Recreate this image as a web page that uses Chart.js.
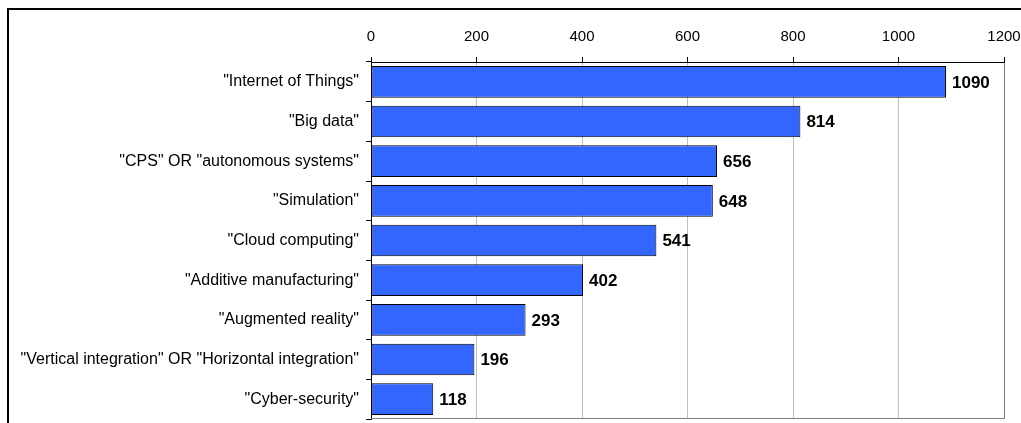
<!DOCTYPE html>
<html>
<head>
<meta charset="utf-8">
<script src="https://cdn.jsdelivr.net/npm/chart.js@4/dist/chart.umd.min.js"></script>
<style>
  html, body { margin: 0; padding: 0; background: #fff; overflow: hidden; }
  #wrap { position: relative; width: 1021px; height: 423px; }
  #frame { position: absolute; left: 7px; top: 8px; width: 2000px; height: 1000px;
           border-left: 2px solid #000; border-top: 2px solid #000; }
  #chart { position: absolute; left: 0; top: 0; }
</style>
</head>
<body>
<div id="wrap">
  <div id="frame"></div>
  <canvas id="chart" width="1021" height="423"></canvas>
</div>
<script>
const categories = [
  '"Internet of Things"',
  '"Big data"',
  '"CPS" OR "autonomous systems"',
  '"Simulation"',
  '"Cloud computing"',
  '"Additive manufacturing"',
  '"Augmented reality"',
  '"Vertical integration" OR "Horizontal integration"',
  '"Cyber-security"'
];
const counts = [1090, 814, 656, 648, 541, 402, 293, 196, 118];
const tickMax = 1200;
const tickStep = 200;

const fontFamily = '"Liberation Sans", Arial, sans-serif';

// bold numbers right of each bar
const valueLabels = {
  id: "valueLabels",
  afterDatasetsDraw(chart) {
    const ctx = chart.ctx;
    const meta = chart.getDatasetMeta(0);
    ctx.save();
    ctx.font = "bold 17px " + fontFamily;
    ctx.fillStyle = "#000";
    ctx.textBaseline = "middle";
    ctx.textAlign = "left";
    meta.data.forEach((bar, i) => {
      ctx.fillText(String(counts[i]), bar.x + 6, bar.y + 1);
    });
    ctx.restore();
  }
};

// gray plot edge at the bottom
const plotEdge = {
  id: "plotEdge",
  beforeDatasetsDraw(chart) {
    const a = chart.chartArea;
    const ctx = chart.ctx;
    ctx.save();
    ctx.strokeStyle = "#808080";
    ctx.lineWidth = 1;
    ctx.beginPath();
    ctx.moveTo(a.left, a.bottom - 0.5);
    ctx.lineTo(a.right, a.bottom - 0.5);
    ctx.stroke();
    ctx.restore();
  }
};

new Chart(document.getElementById("chart"), {
  type: "bar",
  data: {
    labels: categories,
    datasets: [{
      data: counts,
      backgroundColor: "#3366FF",
      borderColor: "#000",
      borderWidth: 1,
      borderSkipped: false,
      barPercentage: 0.8,
      categoryPercentage: 1
    }]
  },
  options: {
    indexAxis: "y",
    responsive: false,
    devicePixelRatio: 1,
    animation: false,
    layout: { padding: { left: 0, top: 0, right: 17, bottom: 4 } },
    plugins: {
      legend: { display: false },
      tooltip: { enabled: false }
    },
    scales: {
      x: {
        position: "top",
        min: 0,
        max: tickMax,
        afterFit: s => {
          s.height = 62;
          s.paddingLeft = 0;
          s.paddingRight = 0;
        },
        ticks: {
          stepSize: tickStep,
          padding: 11,
          color: "#000",
          font: { family: fontFamily, size: 15 },
          callback: v => String(v)
        },
        grid: {
          color: ctx => (ctx.tick && ctx.tick.value === tickMax ? "#808080" : "#c0c0c0"),
          tickColor: "#000",
          tickLength: 5,
          lineWidth: 1
        },
        border: { color: "#000", width: 1 }
      },
      y: {
        afterFit: s => {
          s.width = 371;
          s.paddingTop = 0;
          s.paddingBottom = 0;
        },
        ticks: {
          padding: 7,
          color: "#000",
          font: { family: fontFamily, size: 16 }
        },
        grid: {
          drawOnChartArea: false,
          tickColor: "#000",
          tickLength: 5,
          offset: true
        },
        border: { color: "#000", width: 1 }
      }
    }
  },
  plugins: [plotEdge, valueLabels]
});
</script>
</body>
</html>
